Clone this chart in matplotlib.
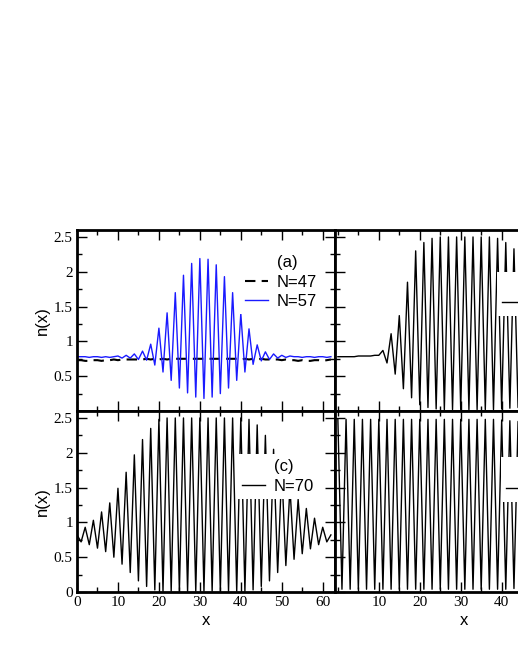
# --- Python Imports ---
from matplotlib import pyplot as plt
from matplotlib.lines import Line2D
from matplotlib.ticker import MultipleLocator
import numpy as np

# --- Data ---
# panel (a): density profiles for N=47 (dashed) and N=57 (blue)
n_N47 = [0.73, 0.73, 0.72, 0.72, 0.73, 0.73, 0.72, 0.73, 0.73, 0.74,
         0.73, 0.74, 0.74, 0.74, 0.74, 0.74, 0.74, 0.75, 0.74, 0.75,
         0.74, 0.75, 0.74, 0.75, 0.75, 0.75, 0.75, 0.75, 0.75, 0.75,
         0.75, 0.75, 0.75, 0.75, 0.75, 0.75, 0.75, 0.75, 0.75, 0.75,
         0.74, 0.75, 0.74, 0.75, 0.74, 0.75, 0.74, 0.74, 0.74, 0.74,
         0.73, 0.74, 0.73, 0.73, 0.72, 0.73, 0.72, 0.72, 0.73, 0.73,
         0.72, 0.73, 0.74]
n_N57 = [0.78, 0.78, 0.78, 0.77, 0.78, 0.78, 0.77, 0.78, 0.77, 0.78,
         0.79, 0.76, 0.80, 0.76, 0.82, 0.74, 0.86, 0.73, 0.96, 0.66,
         1.19, 0.56, 1.41, 0.44, 1.70, 0.33, 1.95, 0.26, 2.12, 0.20,
         2.19, 0.18, 2.18, 0.20, 2.10, 0.25, 1.93, 0.33, 1.70, 0.44,
         1.40, 0.56, 1.18, 0.67, 0.95, 0.72, 0.85, 0.74, 0.82, 0.76,
         0.80, 0.77, 0.79, 0.78, 0.78, 0.77, 0.78, 0.78, 0.77, 0.78,
         0.78, 0.77, 0.78]
# panel (c): N=70
n_N70 = [0.82, 0.72, 0.93, 0.68, 1.03, 0.63, 1.15, 0.58, 1.28, 0.50,
         1.49, 0.40, 1.72, 0.28, 1.97, 0.16, 2.19, 0.08, 2.35, 0.03,
         2.48, 0.01, 2.50, 0.01, 2.50, 0.01, 2.50, 0.01, 2.50, 0.01,
         2.50, 0.01, 2.50, 0.01, 2.50, 0.01, 2.50, 0.01, 2.50, 0.01,
         2.50, 0.01, 2.48, 0.03, 2.40, 0.08, 2.25, 0.16, 2.05, 0.28,
         1.75, 0.38, 1.50, 0.47, 1.33, 0.55, 1.20, 0.62, 1.06, 0.68,
         0.93, 0.72, 0.82]
# panel (b), visible part only
n_b = [0.78, 0.78, 0.78, 0.78, 0.78, 0.79, 0.79, 0.79, 0.79, 0.80,
       0.80, 0.87, 0.69, 1.11, 0.53, 1.37, 0.32, 1.85, 0.19, 2.30,
       0.09, 2.42, 0.05, 2.48, 0.03, 2.50, 0.02, 2.50, 0.02, 2.50,
       0.02, 2.50, 0.02, 2.50, 0.02, 2.50, 0.02, 2.50, 0.02, 2.48,
       0.03, 2.42, 0.04, 2.33, 0.05, 2.25, 0.06]
# panel (d), visible part only
n_d = [2.48, 0.04, 2.48, 0.04, 2.48, 0.04, 2.48, 0.04, 2.48, 0.04,
       2.48, 0.04, 2.48, 0.04, 2.48, 0.04, 2.48, 0.04, 2.48, 0.04,
       2.48, 0.04, 2.48, 0.04, 2.48, 0.04, 2.48, 0.04, 2.48, 0.04,
       2.48, 0.04, 2.48, 0.04, 2.48, 0.04, 2.48, 0.04, 2.48, 0.04,
       2.47, 0.04, 2.46, 0.05, 2.45, 0.05, 2.44]

labels_a = ["(a)", "N=47", "N=57"]
labels_b = ["(b)", "N=62"]
labels_c = ["(c)", "N=70"]
labels_d = ["(d)", "N=80"]

yticks_top    = [0.5, 1, 1.5, 2, 2.5]
yticks_bottom = [0, 0.5, 1, 1.5, 2, 2.5]
xticks_left   = [0, 10, 20, 30, 40, 50, 60]
xticks_right  = [10, 20, 30, 40]

SERIF = "Liberation Serif"
SANS  = "Liberation Sans"


# ---------------------------------------------------------
def styleAxes( ax, xlim, xticks, yticks, showX, showY ):
    ax.set_xlim( xlim )
    ax.set_ylim( 0, 2.6 )
    for spine in ax.spines.values():
        spine.set_linewidth( 2.0 )
    ax.set_xticks( xticks )
    ax.set_yticks( yticks )
    ax.xaxis.set_minor_locator( MultipleLocator(5) )
    ax.yaxis.set_minor_locator( MultipleLocator(0.25) )
    ax.tick_params( which="both", direction="in", top=True, right=True, width=1.0 )
    ax.tick_params( which="major", length=7 )
    ax.tick_params( which="minor", length=3.5 )
    ax.tick_params( labelbottom=showX, labelleft=showY, labelsize=11, pad=3 )
    if showY:
        ax.set_yticklabels( ["%g" % v for v in yticks], family=SERIF )
        ax.set_ylabel( "n(x)", family=SANS, fontsize=12, labelpad=2.5 )
    if showX:
        ax.set_xticklabels( ["%g" % v for v in xticks], family=SERIF )
        ax.set_xlabel( "x", family=SANS, fontsize=12, labelpad=3 )


def addLegend( ax, handles, labels, anchor ):
    # first row is the panel tag, drawn with an empty handle
    blank = Line2D( [], [], linestyle="none" )
    leg = ax.legend( [blank] + handles, labels,
                     loc="upper left", bbox_to_anchor=anchor,
                     frameon=True, fancybox=False, facecolor="white",
                     edgecolor="none", framealpha=1.0,
                     prop={"family": SANS, "size": 12},
                     handlelength=1.4, handletextpad=0.5,
                     labelspacing=0.28, borderpad=0.3, borderaxespad=0 )
    return leg


# --- Figure ---
W, H = 518, 670
fig = plt.figure( figsize=(W / 100, H / 100), dpi=100 )

left0, left1 = 77 / W, 335 / W
bot_top, bot_bottom = 1 - 411 / H, 1 - 592 / H
pw, ph = 258 / W, 181 / H

axA = fig.add_axes( [left0, bot_top, pw, ph] )
axB = fig.add_axes( [left1, bot_top, pw, ph] )
axC = fig.add_axes( [left0, bot_bottom, pw, ph] )
axD = fig.add_axes( [left1, bot_bottom, pw, ph] )

# panel (a)
lA1, = axA.plot( np.arange(len(n_N47)), n_N47, color="black", lw=1.5, linestyle=(0, (5, 3)) )
lA2, = axA.plot( np.arange(len(n_N57)), n_N57, color="#1a1aff", lw=1.0 )
styleAxes( axA, (0, 63), xticks_left, yticks_top, False, True )
addLegend( axA, [lA1, lA2], labels_a, (0.632, 0.89) )

# panel (b)
lB, = axB.plot( np.arange(len(n_b)), n_b, color="black", lw=1.0 )
styleAxes( axB, (-0.7, 62.3), xticks_right, yticks_top, False, False )
addLegend( axB, [lB], labels_b, (0.628, 0.77) )

# panel (c)
lC, = axC.plot( np.arange(len(n_N70)), n_N70, color="black", lw=1.0 )
styleAxes( axC, (0, 63), xticks_left, yticks_bottom, True, True )
addLegend( axC, [lC], labels_c, (0.62, 0.76) )

# panel (d)
lD, = axD.plot( np.arange(len(n_d)), n_d, color="black", lw=1.0 )
styleAxes( axD, (-0.7, 62.3), xticks_right, yticks_bottom, True, False )
addLegend( axD, [lD], labels_d, (0.645, 0.745) )

fig.savefig( "out.png", dpi=100 )
